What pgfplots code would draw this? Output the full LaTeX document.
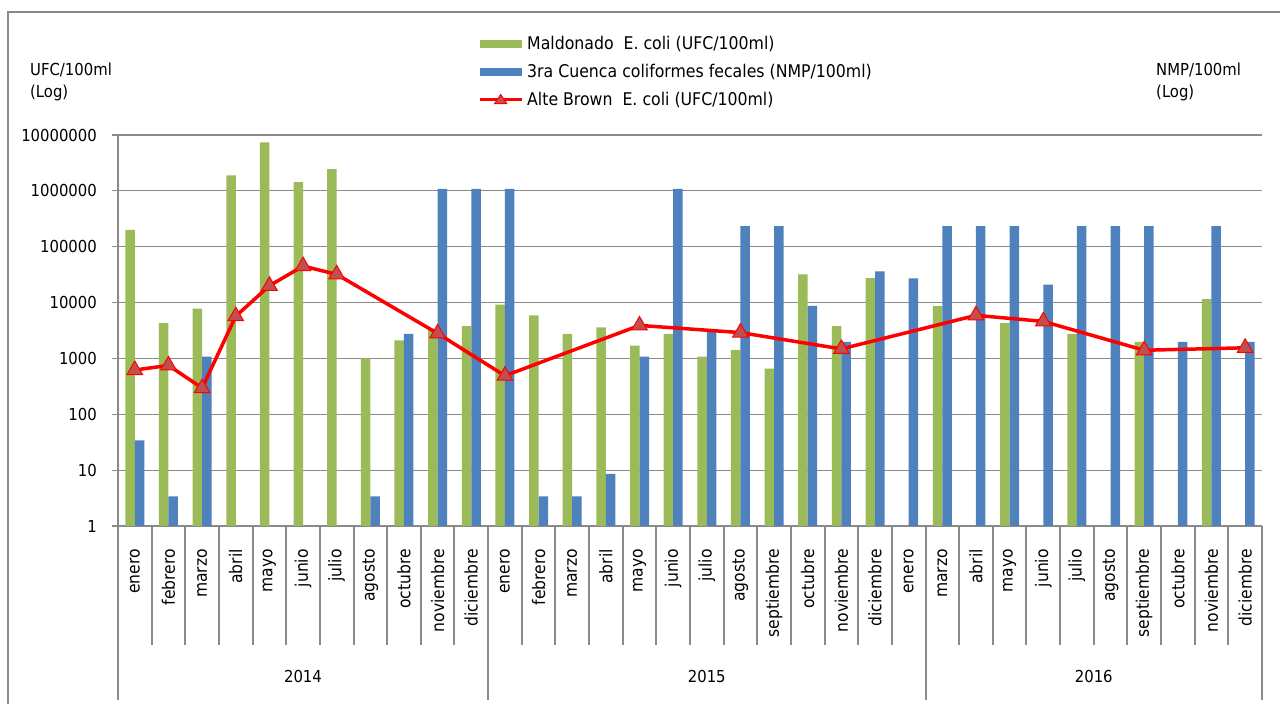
\documentclass[border=0pt]{standalone}
\usepackage{fontspec}
\setmainfont{DejaVu Sans Condensed}
\usepackage{pgfplots}
\pgfplotsset{compat=1.18}
\definecolor{cgreen}{HTML}{9BBB59}
\definecolor{cblue}{HTML}{4F81BD}
\definecolor{cmark}{HTML}{C0504D}
\definecolor{cgrid}{HTML}{8A8A8A}
\newcommand{\chfont}{\fontsize{16.5}{22}\selectfont}
\newcommand{\lgfont}{\fontsize{17.5}{22}\selectfont}
\newcommand{\mfont}{\fontsize{17.3}{22}\selectfont}
\begin{document}
\begin{tikzpicture}[x=1pt,y=1pt]
\useasboundingbox (0,0) rectangle (1280,704);
\draw[cgrid, line width=1.2pt] (8,0) -- (8,692) -- (1280,692);
\begin{axis}[
  at={(118pt,178pt)}, anchor=south west,
  scale only axis, width=1144pt, height=391pt,
  font=\chfont,
  ymode=log, ymin=1, ymax=1e7,
  xmin=-0.5, xmax=33.5,
  axis lines=left,
  axis line style={cgrid, line width=1.2pt, -},
  ymajorgrids, grid style={cgrid, line width=1.2pt},
  tick align=outside, major tick length=6pt,
  tick style={cgrid, line width=1.2pt},
  ytick={1,10,100,1000,10000,100000,1000000,10000000},
  yticklabels={1,10,100,1000,10000,100000,1000000,10000000},
  yticklabel style={inner sep=0pt, xshift=-15pt},
  yminorticks=false,
  xtick={0,...,33},
  xticklabels={enero,febrero,marzo,abril,mayo,junio,julio,agosto,octubre,noviembre,diciembre,enero,febrero,marzo,abril,mayo,junio,julio,agosto,septiembre,octubre,noviembre,diciembre,enero,marzo,abril,mayo,junio,julio,agosto,septiembre,octubre,noviembre,diciembre},
  xtick style={draw=none},
  xticklabel shift=17pt,
  xticklabel style={rotate=90, anchor=east, inner sep=0pt, font=\mfont},
  legend style={at={(0.3147,1.2625)}, anchor=north west, draw=none, fill=none,
    font=\lgfont, inner sep=0pt, row sep=5pt,
    nodes={inner sep=4pt}},
  legend cell align=left,
]
\addplot[ybar, bar width=9.5pt, bar shift=-4.75pt, fill=cgreen, draw=none,
  legend image code/.code={\fill[cgreen] (0pt,-4pt) rectangle (42pt,4pt);}]
  coordinates {
  (0,200000) (1,4300) (2,7800) (3,1900000) (4,7400000) (5,1430000) (6,2450000)
  (7,1000) (8,2100) (9,3400) (10,3800)
  (11,9200) (12,5900) (13,2750) (14,3600) (15,1700) (16,2750) (17,1080)
  (18,1420) (19,660) (20,32000) (21,3800) (22,27500)
  (24,8600) (26,4300) (28,2750) (30,1980) (32,11500)
  };
\addlegendentry{Maldonado\ \ E. coli (UFC/100ml)}
\addplot[ybar, bar width=9.5pt, bar shift=4.75pt, fill=cblue, draw=none,
  legend image code/.code={\fill[cblue] (0pt,-4pt) rectangle (42pt,4pt);}]
  coordinates {
  (0,34) (1,3.4) (2,1080) (7,3.4) (8,2750) (9,1090000) (10,1090000)
  (11,1090000) (12,3.4) (13,3.4) (14,8.6) (15,1080) (16,1090000) (17,3050)
  (18,233000) (19,233000) (20,8700) (21,1970) (22,36000) (23,27200)
  (24,233000) (25,233000) (26,233000) (27,21000) (28,233000) (29,233000)
  (30,233000) (31,1970) (32,233000) (33,1970)
  };
\addlegendentry{3ra Cuenca\ coliformes\ fecales (NMP/100ml)}
\addplot[red, line width=3.5pt, mark=triangle*, mark size=9pt,
  mark options={fill=cmark, draw=red, line width=1pt},
  legend image code/.code={\draw[red, line width=3pt] (0pt,0pt) -- (42pt,0pt);
    \fill[cmark, draw=red, line width=1pt] (21pt,5pt) -- (27pt,-4pt) -- (15pt,-4pt) -- cycle;}]
  coordinates {
  (0,620) (1,750) (2,295) (3,5700) (4,20000) (5,45000) (6,32000)
  (9,2800) (11,490) (15,3900) (18,2900) (21,1480)
  (25,5900) (27,4600) (30,1400) (33,1550)
  };
\addlegendentry{Alte Brown\ \ E. coli (UFC/100ml)}
\end{axis}
% category separators
\foreach \i in {1,2,3,4,5,6,7,8,9,10,12,13,14,15,16,17,18,19,20,21,22,23,25,26,27,28,29,30,31,32,33} {
  \pgfmathsetmacro{\xx}{round(118+\i*33.647)}
  \draw[cgrid, line width=1.2pt] (\xx,178) -- (\xx,59);
}
\foreach \i in {0,11,24,34} {
  \pgfmathsetmacro{\xx}{round(118+\i*33.647)}
  \draw[cgrid, line width=1.2pt] (\xx,178) -- (\xx,4);
}
\node[font=\chfont] at (303,28) {2014};
\node[font=\chfont] at (706.8,28) {2015};
\node[font=\chfont] at (1093.8,28) {2016};
\node[font=\chfont, anchor=west, align=left, inner sep=0pt] at (30,622) {UFC/100ml\\(Log)};
\node[font=\chfont, anchor=west, align=left, inner sep=0pt] at (1156,622) {NMP/100ml\\(Log)};
\end{tikzpicture}
\end{document}
